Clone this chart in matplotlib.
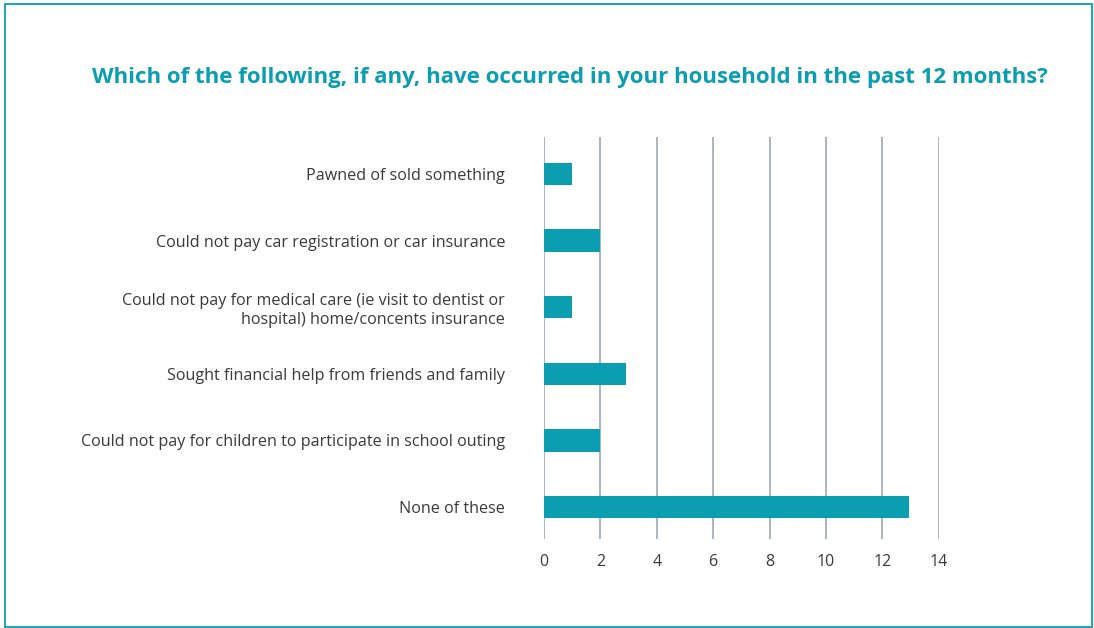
import matplotlib.pyplot as plt
from matplotlib.patches import Rectangle

# survey answers, top to bottom
categories = [
    "Pawned of sold something",
    "Could not pay car registration or car insurance",
    "Could not pay for medical care (ie visit to dentist or\nhospital) home/concents insurance",
    "Sought financial help from friends and family",
    "Could not pay for children to participate in school outing",
    "None of these",
]
counts = [1, 2, 1, 2.9, 2, 12.95]
xticks = [0, 2, 4, 6, 8, 10, 12, 14]

teal = "#0b9db0"
text_col = "#3a3a3a"
grid_col = "#9ea8b3"

plt.rcParams["font.family"] = ["Open Sans", "DejaVu Sans"]

fig = plt.figure(figsize=(10.94, 6.28), dpi=100)

# outer frame
fig.patches.append(Rectangle((5 / 1094, 1 / 628), 1087 / 1094, 623 / 628,
                             transform=fig.transFigure, fill=False,
                             edgecolor=teal, linewidth=1.3))

ax = fig.add_axes([544 / 1094, (628 - 539) / 628, (938.7 - 544) / 1094, 402 / 628])

ypos = list(range(len(categories)))
ax.barh(ypos, counts, height=0.335, color=teal, zorder=3)
ax.set_ylim(5.48, -0.556)
ax.set_xlim(0, 14)
ax.set_xticks(xticks)
ax.set_xticklabels([str(t) for t in xticks], fontsize=11.5, color=text_col)
ax.set_yticks(ypos)
ax.set_yticklabels(categories, fontsize=11.6, color=text_col, ha="right",
                   multialignment="right")
ax.tick_params(axis="y", length=0, pad=28)
ax.tick_params(axis="x", length=0, pad=11)
ax.grid(axis="x", color=grid_col, linewidth=1.2, zorder=0)
for s in ax.spines.values():
    s.set_visible(False)

fig.text(570 / 1094, 1 - 77 / 628,
         "Which of the following, if any, have occurred in your household in the past 12 months?",
         ha="center", va="center", fontsize=16, fontweight="bold", color=teal)

fig.savefig("out.png", dpi=100)
